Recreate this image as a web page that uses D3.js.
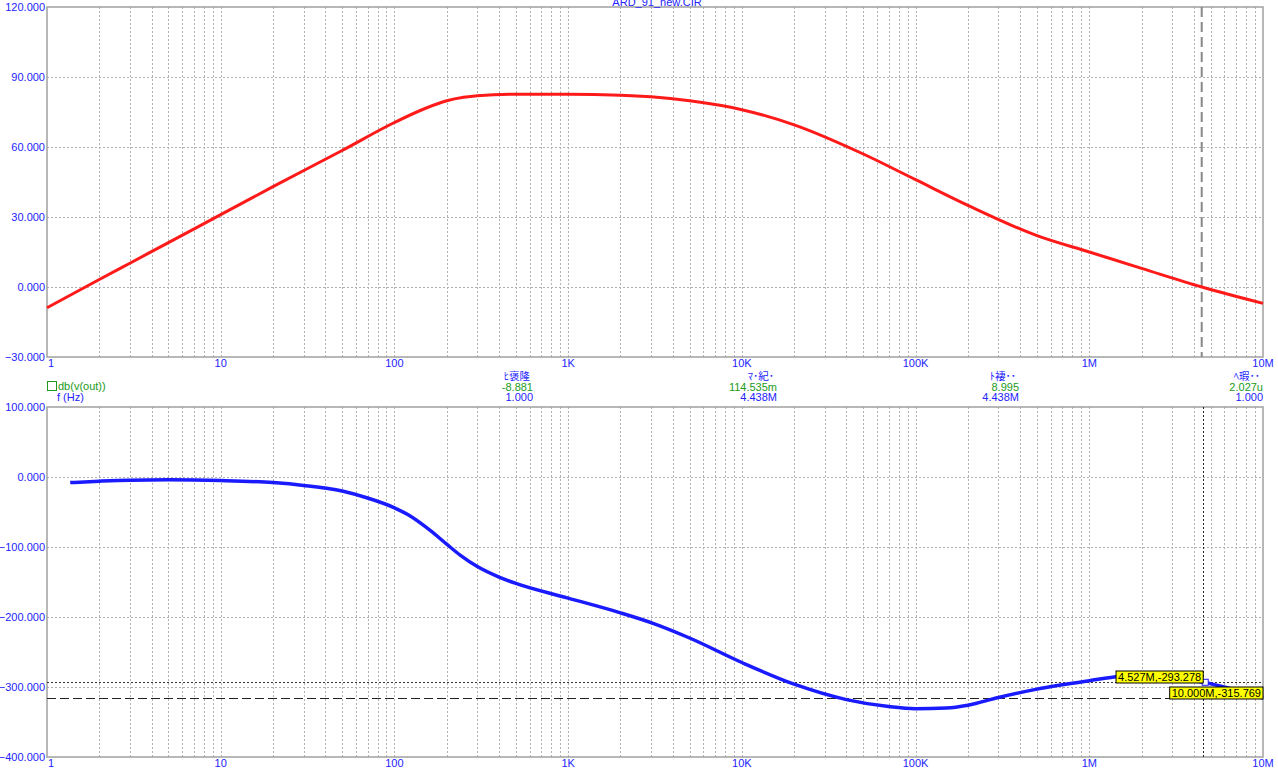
<!DOCTYPE html>
<html><head><meta charset="utf-8">
<script src="https://cdn.jsdelivr.net/npm/d3@7"></script>
<style>body{margin:0;background:#fff;}svg{display:block;}</style>
</head><body>
<svg id="c" width="1278" height="770"></svg>
<script>
// ---- data ----
const title = "ARD_91_new.CIR";
const xTickValues = [1,10,100,1e3,1e4,1e5,1e6,1e7];
const xTickLabels = ["1","10","100","1K","10K","100K","1M","10M"];
const yTopTicks = [120,90,60,30,0,-30];
const yBotTicks = [100,0,-100,-200,-300,-400];

const topFreq = [1,2,3,5,10,20,50,100,150,200,250,300,500,1000,2000,3000,5000,10000,20000,50000,100000,200000,500000,1e6,2e6,4.438e6,1e7];
const topDb   = [-8.881,3.2,10.2,19,31,43,58.5,70.5,76.5,79.8,81.3,82,82.6,82.6,82.2,81.5,79.8,76,69.5,57,46,35,22,15,8.0,0,-7];

const botFreq = [1.36,2,3,5,10,20,30,50,70,100,120,160,200,240,300,400,500,1000,2000,3000,5000,10000,20000,40000,70000,100000,150000,200000,300000,500000,1e6,1.5e6,2e6,4.527e6,1e7];
const botDb   = [-8,-6,-4.5,-4,-5,-8,-12,-20,-30,-44,-54,-76,-96,-112,-128,-143,-152,-173,-194,-208,-230,-265,-296,-318,-328,-331,-330,-326,-315,-303,-291,-285,-284,-293.278,-315.769];

const legendTrace = "db(v(out))";
const legendAxis = "f (Hz)";
const colHeads = ["ﾋ褒隆","ﾏ･紀･","ﾄ褄･･","ﾍ瑕･･"];
const colVals = ["-8.881","114.535m","8.995","2.027u"];
const colFreqs = ["1.000","4.438M","4.438M","1.000"];

const cursorTopFreq = 4.438e6;
const cursorBot = {f:4.527e6, v:-293.278, label:"4.527M,-293.278"};
const cursorBot2 = {f:1e7, v:-315.769, label:"10.000M,-315.769"};

// ---- layout ----
const svg = d3.select("#c");
const L = 47, R = 1263;
const x = d3.scaleLog().domain([1,1e7]).range([L,R]);
const yT = d3.scaleLinear().domain([-30,120]).range([357,7]);
const yB = d3.scaleLinear().domain([-400,100]).range([757,407]);
const blue = "#2323ff", green = "#219a21", gridC = "#b0b0b0", font = "Liberation Sans, Arial, sans-serif";

const minor = [];
for (let d=0; d<7; d++) for (let k=1; k<10; k++) minor.push(Math.pow(10,d)*k);

function panel(y, ticks, fmt) {
  const g = svg.append("g");
  const [y0,y1] = y.range();
  g.selectAll(null).data(minor.filter(v=>v>1 && v<1e7)).enter().append("line")
    .attr("x1",d=>Math.round(x(d))+0.5).attr("x2",d=>Math.round(x(d))+0.5)
    .attr("y1",y1).attr("y2",y0).attr("stroke",gridC).attr("stroke-dasharray","2,2");
  g.selectAll(null).data(ticks.slice(1,-1)).enter().append("line")
    .attr("x1",L).attr("x2",R).attr("y1",d=>Math.round(y(d))+0.5).attr("y2",d=>Math.round(y(d))+0.5)
    .attr("stroke",gridC).attr("stroke-dasharray","2,2");
  g.append("rect").attr("x",L).attr("y",y1).attr("width",R-L).attr("height",y0-y1)
    .attr("fill","none").attr("stroke","#a0a0a0").attr("stroke-width",1.5);
  g.selectAll(null).data(ticks).enter().append("text")
    .attr("x",L-2).attr("y",d=>y(d)+4).attr("text-anchor","end")
    .attr("font-family",font).attr("font-size",11).attr("fill",blue)
    .text(d=>fmt(d));
  g.selectAll(null).data(xTickValues).enter().append("text")
    .attr("x",(d,i)=> i===0 ? x(d)+1 : x(d)).attr("y",y0+10)
    .attr("text-anchor",(d,i)=> i===0 ? "start" : "middle")
    .attr("font-family",font).attr("font-size",11).attr("fill",blue)
    .text((d,i)=>xTickLabels[i]);
  return g;
}
const fmt = d => (d<0?"−":"") + Math.abs(d).toFixed(3);
panel(yT, yTopTicks, fmt);
panel(yB, yBotTicks, fmt);

// title (partly above the page edge, as in the reference)
svg.append("text").attr("x",657).attr("y",6).attr("text-anchor","middle")
  .attr("font-family",font).attr("font-size",11).attr("fill",blue).text(title);

// top cursor
svg.append("line").attr("x1",x(cursorTopFreq)).attr("x2",x(cursorTopFreq)).attr("y1",7).attr("y2",357)
  .attr("stroke","#888").attr("stroke-width",2).attr("stroke-dasharray","10,5");

// top curve
const lineT = d3.line().x(d=>x(d[0])).y(d=>yT(d[1])).curve(d3.curveMonotoneX);
svg.append("path").datum(d3.zip(topFreq,topDb)).attr("d",lineT)
  .attr("fill","none").attr("stroke","#ff1a1a").attr("stroke-width",3);

// bottom cursors
svg.append("line").attr("x1",L).attr("x2",R).attr("y1",Math.round(yB(cursorBot.v))+0.5).attr("y2",Math.round(yB(cursorBot.v))+0.5)
  .attr("stroke","#333").attr("stroke-dasharray","2,2");
svg.append("line").attr("x1",L).attr("x2",R).attr("y1",Math.round(yB(cursorBot2.v))+0.5).attr("y2",Math.round(yB(cursorBot2.v))+0.5)
  .attr("stroke","#222").attr("stroke-dasharray","9,4");
svg.append("line").attr("x1",Math.round(x(cursorBot.f))+0.5).attr("x2",Math.round(x(cursorBot.f))+0.5).attr("y1",407).attr("y2",757)
  .attr("stroke","#222").attr("stroke-dasharray","2,2");

// bottom curve
const lineB = d3.line().x(d=>x(d[0])).y(d=>yB(d[1])).curve(d3.curveMonotoneX);
svg.append("path").datum(d3.zip(botFreq,botDb)).attr("d",lineB)
  .attr("fill","none").attr("stroke","#1a1aff").attr("stroke-width",3.5);

// cursor marker
svg.append("rect").attr("x",x(cursorBot.f)-1).attr("y",yB(cursorBot.v)-3).attr("width",6).attr("height",6)
  .attr("fill","#fff").attr("stroke","#1a1aff");

// yellow labels
function ylabel(text, xr, ytop) {
  const t = svg.append("text").attr("font-family",font).attr("font-size",11).attr("fill","#000").text(text);
  const w = t.node().getComputedTextLength();
  svg.insert("rect", () => t.node()).attr("x",xr-w-3).attr("y",ytop).attr("width",w+4).attr("height",12)
    .attr("fill","#ffff00").attr("stroke","#000").attr("stroke-width",1);
  t.attr("x",xr-w-1).attr("y",ytop+10);
}
ylabel(cursorBot.label, x(cursorBot.f)-1, 671);
ylabel(cursorBot2.label, R-1, 687);

// legend area
svg.append("rect").attr("x",L+0.5).attr("y",381.5).attr("width",9).attr("height",9)
  .attr("fill","none").attr("stroke",green).attr("stroke-width",1);
svg.append("text").attr("x",L+11).attr("y",390).attr("font-family",font).attr("font-size",11).attr("fill",green).text(legendTrace);
svg.append("text").attr("x",57).attr("y",401).attr("font-family",font).attr("font-size",11).attr("fill",blue).text(legendAxis);
const colX = [533,777,1019,1263];
colHeads.forEach((h,i)=>{
  svg.append("text").attr("x",colX[i]-3).attr("y",380).attr("text-anchor","end").attr("font-family","Noto Sans CJK JP, "+font).attr("font-size",10.5).attr("fill",blue).text(h);
  svg.append("text").attr("x",colX[i]).attr("y",390.5).attr("text-anchor","end").attr("font-family",font).attr("font-size",11).attr("fill",green).text(colVals[i]);
  svg.append("text").attr("x",colX[i]).attr("y",401).attr("text-anchor","end").attr("font-family",font).attr("font-size",11).attr("fill",blue).text(colFreqs[i]);
});
</script>
</body></html>
